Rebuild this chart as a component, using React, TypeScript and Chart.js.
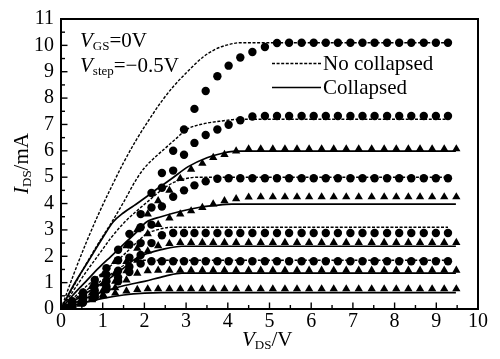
import React, { useEffect, useRef } from "react";
import { Chart, registerables } from "chart.js";

Chart.register(...registerables);

// Measured points: circles (no collapsed) and triangles (collapsed)
const C_X = [0, 0.27, 0.53, 0.81, 1.09, 1.37, 1.64, 1.91, 2.17, 2.42, 2.69, 2.95, 3.2, 3.47, 3.75, 4.02, 4.3, 4.59, 4.89, 5.18, 5.47, 5.77, 6.06, 6.35, 6.64, 6.94, 7.23, 7.52, 7.82, 8.11, 8.4, 8.7, 8.99, 9.28];
const C1 = [0, 0.3, 0.63, 1.1, 1.55, 2.25, 2.85, 3.6, 4.4, 5.16, 6.0, 6.81, 7.59, 8.27, 8.83, 9.23, 9.54, 9.75, 9.94, 10.09, 10.1, 10.1, 10.1, 10.1, 10.1, 10.1, 10.1, 10.1, 10.1, 10.1, 10.1, 10.1, 10.1, 10.1];
const C2 = [0, 0.22, 0.5, 0.9, 1.3, 1.85, 2.45, 3.1, 3.85, 4.6, 5.25, 5.85, 6.3, 6.6, 6.81, 6.99, 7.16, 7.3, 7.32, 7.32, 7.32, 7.32, 7.32, 7.32, 7.32, 7.32, 7.32, 7.32, 7.32, 7.32, 7.32, 7.32, 7.32, 7.32];
const C3 = [0, 0.15, 0.4, 0.7, 1.05, 1.45, 1.95, 2.5, 3.2, 3.89, 4.26, 4.5, 4.69, 4.84, 4.94, 4.96, 4.96, 4.96, 4.96, 4.96, 4.96, 4.96, 4.96, 4.96, 4.96, 4.96, 4.96, 4.96, 4.96, 4.96, 4.96, 4.96, 4.96, 4.96];
const C4 = [0, 0.1, 0.3, 0.55, 0.85, 1.2, 1.6, 2.05, 2.5, 2.8, 2.88, 2.88, 2.88, 2.88, 2.88, 2.88, 2.88, 2.88, 2.88, 2.88, 2.88, 2.88, 2.88, 2.88, 2.88, 2.88, 2.88, 2.88, 2.88, 2.88, 2.88, 2.88, 2.88, 2.88];
const C5 = [0, 0.08, 0.25, 0.45, 0.75, 1.05, 1.4, 1.72, 1.81, 1.81, 1.81, 1.81, 1.81, 1.81, 1.81, 1.81, 1.81, 1.81, 1.81, 1.81, 1.81, 1.81, 1.81, 1.81, 1.81, 1.81, 1.81, 1.81, 1.81, 1.81, 1.81, 1.81, 1.81, 1.81];

const T_X = [0, 0.2, 0.47, 0.74, 1.01, 1.3, 1.57, 1.83, 2.08, 2.33, 2.6, 2.86, 3.12, 3.39, 3.65, 3.92, 4.2, 4.5, 4.79, 5.08, 5.37, 5.66, 5.95, 6.25, 6.54, 6.84, 7.14, 7.45, 7.75, 8.04, 8.33, 8.61, 8.9, 9.19, 9.48];
const T1 = [0, 0.15, 0.45, 0.85, 1.3, 1.8, 2.4, 3.0, 3.6, 4.1, 4.5, 4.95, 5.3, 5.52, 5.74, 5.86, 5.99, 6.07, 6.07, 6.07, 6.07, 6.07, 6.07, 6.07, 6.07, 6.07, 6.07, 6.07, 6.07, 6.07, 6.07, 6.07, 6.07, 6.07, 6.07];
const T2 = [0, 0.1, 0.3, 0.6, 0.95, 1.35, 1.8, 2.3, 2.85, 3.2, 3.45, 3.6, 3.72, 3.85, 3.98, 4.1, 4.18, 4.24, 4.25, 4.25, 4.25, 4.25, 4.25, 4.25, 4.25, 4.25, 4.25, 4.25, 4.25, 4.25, 4.25, 4.25, 4.25, 4.25, 4.25];
const T3 = [0, 0.07, 0.22, 0.45, 0.72, 1.05, 1.45, 1.85, 2.2, 2.4, 2.48, 2.52, 2.52, 2.52, 2.52, 2.52, 2.52, 2.52, 2.52, 2.52, 2.52, 2.52, 2.52, 2.52, 2.52, 2.52, 2.52, 2.52, 2.52, 2.52, 2.52, 2.52, 2.52, 2.52, 2.52];
const T4 = [0, 0.05, 0.18, 0.35, 0.55, 0.8, 1.1, 1.35, 1.45, 1.47, 1.47, 1.47, 1.47, 1.47, 1.47, 1.47, 1.47, 1.47, 1.47, 1.47, 1.47, 1.47, 1.47, 1.47, 1.47, 1.47, 1.47, 1.47, 1.47, 1.47, 1.47, 1.47, 1.47, 1.47, 1.47];
const T5 = [0, 0.08, 0.22, 0.36, 0.5, 0.6, 0.68, 0.74, 0.76, 0.76, 0.76, 0.76, 0.76, 0.76, 0.76, 0.76, 0.76, 0.76, 0.76, 0.76, 0.76, 0.76, 0.76, 0.76, 0.76, 0.76, 0.76, 0.76, 0.76, 0.76, 0.76, 0.76, 0.76, 0.76, 0.76];

// Simulated curves: dashed = no collapsed, solid = collapsed
const D1_X = [0, 0.3, 0.6, 0.9, 1.2, 1.5, 1.8, 2.1, 2.4, 2.7, 3.0, 3.4, 3.7, 4.0, 4.3, 9.28];
const D1_Y = [0, 1.3, 2.5, 3.6, 4.6, 5.55, 6.4, 7.15, 7.85, 8.45, 8.95, 9.55, 9.85, 10.02, 10.1, 10.1];
const D2_X = [0, 0.3, 0.6, 0.9, 1.2, 1.5, 1.8, 2.0, 2.25, 2.5, 2.75, 3.0, 3.4, 3.8, 4.3, 9.28];
const D2_Y = [0, 0.85, 1.7, 2.5, 3.25, 4.05, 4.9, 5.35, 5.75, 6.1, 6.45, 6.8, 7.02, 7.12, 7.2, 7.2];
const D3_X = [0, 0.3, 0.6, 0.9, 1.2, 1.5, 1.8, 2.1, 2.4, 2.7, 3.0, 3.3, 9.28];
const D3_Y = [0, 0.7, 1.4, 2.05, 2.7, 3.25, 3.7, 4.1, 4.5, 4.8, 4.95, 5.0, 5.0];
const D4_X = [0, 0.3, 0.6, 0.9, 1.2, 1.5, 1.8, 2.05, 2.3, 2.65, 9.28];
const D4_Y = [0, 0.42, 0.85, 1.25, 1.65, 2.05, 2.5, 2.85, 3.0, 3.1, 3.1];
const D5_X = [0, 0.3, 0.6, 0.9, 1.2, 1.5, 1.75, 2.0, 9.28];
const D5_Y = [0, 0.35, 0.7, 1.0, 1.32, 1.65, 1.83, 1.85, 1.85];

const S1_X = [0, 0.3, 0.65, 1.0, 1.25, 1.5, 1.75, 2.05, 2.3, 2.65, 3.05, 3.5, 3.85, 4.2, 9.47];
const S1_Y = [0, 0.9, 1.8, 2.7, 3.3, 3.65, 3.92, 4.26, 4.55, 4.94, 5.4, 5.74, 5.9, 5.99, 5.99];
const S2_X = [0, 0.3, 0.6, 0.9, 1.2, 1.5, 1.8, 2.05, 2.4, 2.85, 3.3, 3.7, 4.1, 9.47];
const S2_Y = [0, 0.55, 1.05, 1.55, 2.0, 2.45, 2.9, 3.3, 3.5, 3.7, 3.85, 3.93, 3.98, 3.98];
const S3_X = [0, 0.3, 0.6, 0.9, 1.2, 1.5, 1.8, 2.1, 2.4, 2.9, 9.47];
const S3_Y = [0, 0.3, 0.6, 0.9, 1.2, 1.55, 1.92, 2.12, 2.25, 2.38, 2.38];
const S4_X = [0, 0.5, 1.0, 1.5, 2.0, 2.5, 2.9, 9.47];
const S4_Y = [0, 0.35, 0.65, 0.88, 1.05, 1.25, 1.36, 1.36];
const S5_X = [0, 0.5, 1.0, 1.5, 2.0, 2.4, 9.47];
const S5_Y = [0, 0.22, 0.4, 0.53, 0.6, 0.62, 0.62];

const X_MIN = 0, X_MAX = 10, Y_MIN = 0, Y_MAX = 11;

const FONT = "'Liberation Serif', 'Times New Roman', serif";

const pts = (xs: number[], ys: number[]) => xs.map((x, i) => ({ x, y: ys[i] }));

function markerSet(xs: number[], ys: number[], style: string) {
  return {
    type: "scatter" as const,
    data: pts(xs, ys),
    pointStyle: style,
    pointRadius: style === "circle" ? 4.2 : 4.8,
    backgroundColor: "#000",
    borderColor: "#000",
    borderWidth: 0,
    showLine: false,
  };
}

function lineSet(xs: number[], ys: number[], dashed: boolean) {
  return {
    type: "line" as const,
    data: pts(xs, ys),
    borderColor: "#000",
    borderWidth: dashed ? 1.4 : 1.7,
    borderDash: dashed ? [3, 1.6] : [],
    pointRadius: 0,
    cubicInterpolationMode: "monotone" as const,
    fill: false,
  };
}

const decorPlugin = {
  id: "decor",
  afterDraw(chart: any) {
    const ctx = chart.ctx as CanvasRenderingContext2D;
    const { left, right, top, bottom } = chart.chartArea;
    const xs = chart.scales.x;
    const ys = chart.scales.y;
    ctx.save();
    ctx.strokeStyle = "#000";
    ctx.fillStyle = "#000";
    ctx.lineWidth = 2;
    ctx.setLineDash([]);
    ctx.strokeRect(left, top, right - left, bottom - top);
    // inward ticks
    ctx.lineWidth = 1.4;
    for (let v = X_MIN; v <= X_MAX + 1e-9; v += 0.5) {
      const px = xs.getPixelForValue(v);
      const len = Math.abs(v - Math.round(v)) < 1e-6 ? 6.5 : 4;
      ctx.beginPath();
      ctx.moveTo(px, bottom);
      ctx.lineTo(px, bottom - len);
      ctx.stroke();
    }
    for (let v = Y_MIN; v <= Y_MAX + 1e-9; v += 0.5) {
      const py = ys.getPixelForValue(v);
      const len = Math.abs(v - Math.round(v)) < 1e-6 ? 6.5 : 4;
      ctx.beginPath();
      ctx.moveTo(left, py);
      ctx.lineTo(left + len, py);
      ctx.stroke();
    }

    const drawSub = (x: number, y: number, main: string, sub: string, rest: string, size: number) => {
      ctx.textBaseline = "alphabetic";
      ctx.textAlign = "left";
      ctx.font = `italic ${size}px ${FONT}`;
      ctx.fillText(main, x, y);
      let cx = x + ctx.measureText(main).width;
      ctx.font = `${Math.round(size * 0.62)}px ${FONT}`;
      ctx.fillText(sub, cx, y + 3);
      cx += ctx.measureText(sub).width;
      ctx.font = `${size}px ${FONT}`;
      ctx.fillText(rest, cx, y);
    };

    // annotations
    drawSub(80, 47, "V", "GS", "=0V", 21);
    drawSub(80, 72, "V", "step", "=\u22120.5V", 21);

    // legend
    ctx.lineWidth = 1.4;
    ctx.setLineDash([3, 1.6]);
    ctx.beginPath();
    ctx.moveTo(272, 63.5);
    ctx.lineTo(322, 63.5);
    ctx.stroke();
    ctx.setLineDash([]);
    ctx.lineWidth = 1.7;
    ctx.beginPath();
    ctx.moveTo(272, 87.5);
    ctx.lineTo(321, 87.5);
    ctx.stroke();
    ctx.font = `21px ${FONT}`;
    ctx.textBaseline = "alphabetic";
    ctx.fillText("No collapsed", 323, 69.5);
    ctx.fillText("Collapsed", 323, 93.5);

    // x axis title
    drawSub(242, 346, "V", "DS", "/V", 21);

    // y axis title (rotated)
    ctx.save();
    ctx.translate(28, 194);
    ctx.rotate(-Math.PI / 2);
    drawSub(0, 0, "I", "DS", "/mA", 21);
    ctx.restore();

    ctx.restore();
  },
};

export default function App() {
  const ref = useRef<HTMLCanvasElement | null>(null);
  useEffect(() => {
    if (!ref.current) return;
    const chart = new Chart(ref.current, {
      type: "scatter",
      data: {
        datasets: [
          markerSet(C_X, C1, "circle"),
          markerSet(C_X, C2, "circle"),
          markerSet(C_X, C3, "circle"),
          markerSet(C_X, C4, "circle"),
          markerSet(C_X, C5, "circle"),
          markerSet(T_X, T1, "triangle"),
          markerSet(T_X, T2, "triangle"),
          markerSet(T_X, T3, "triangle"),
          markerSet(T_X, T4, "triangle"),
          markerSet(T_X, T5, "triangle"),
          lineSet(D1_X, D1_Y, true),
          lineSet(D2_X, D2_Y, true),
          lineSet(D3_X, D3_Y, true),
          lineSet(D4_X, D4_Y, true),
          lineSet(D5_X, D5_Y, true),
          lineSet(S1_X, S1_Y, false),
          lineSet(S2_X, S2_Y, false),
          lineSet(S3_X, S3_Y, false),
          lineSet(S4_X, S4_Y, false),
          lineSet(S5_X, S5_Y, false),
        ] as any,
      },
      options: {
        animation: false,
        responsive: false,
        maintainAspectRatio: false,
        layout: { padding: { top: 14, right: 22, left: 0, bottom: 0 } },
        plugins: { legend: { display: false }, tooltip: { enabled: false } },
        scales: {
          x: {
            type: "linear",
            min: X_MIN,
            max: X_MAX,
            grid: { display: false, drawTicks: false },
            border: { display: false },
            ticks: { stepSize: 1, autoSkip: false, maxRotation: 0, color: "#000", padding: 1, font: { family: FONT, size: 20 } },
            afterFit: (s: any) => { s.height = 50; },
          },
          y: {
            type: "linear",
            min: Y_MIN,
            max: Y_MAX,
            grid: { display: false, drawTicks: false },
            border: { display: false },
            ticks: { stepSize: 1, autoSkip: false, color: "#000", padding: 7, font: { family: FONT, size: 20 } },
            afterFit: (s: any) => { s.width = 61; },
          },
        },
      } as any,
      plugins: [decorPlugin],
    });
    return () => chart.destroy();
  }, []);
  return (
    <div style={{ position: "fixed", left: 0, top: 0, width: 500, height: 359, background: "#fff" }}>
      <canvas ref={ref} width={500} height={359} style={{ width: 500, height: 359 }} />
    </div>
  );
}
